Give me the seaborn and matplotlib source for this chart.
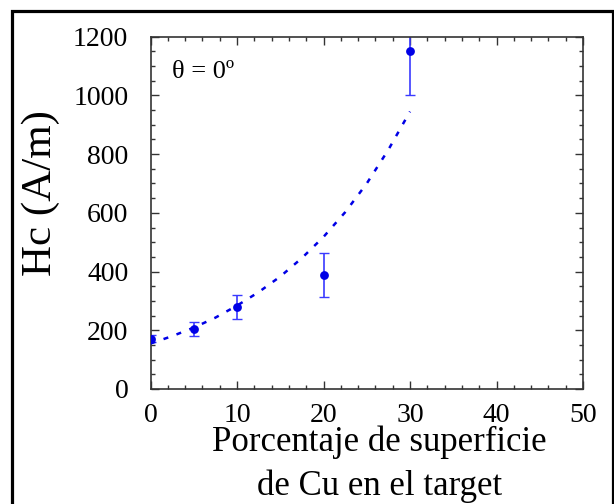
import numpy as np
import pandas as pd
import matplotlib
matplotlib.use("Agg")
import matplotlib.pyplot as plt
import seaborn as sns
from matplotlib.patches import Rectangle
from matplotlib.ticker import MultipleLocator

# measured points (x = % Cu surface, y = Hc)
cu_pct = [0, 5, 10, 20, 30]
hc = [172, 205, 280, 387, 1152]
hc_err = [12, 23, 41, 75, 150]

# dashed fit curve
fit_x = [0, 2.5, 5, 7.5, 10, 12.5, 15, 17.5, 20, 22.5, 25, 27.5, 30]
fit_y = [155, 180, 209, 243, 284, 330, 383, 446, 518, 602, 700, 815, 945]

sns.set_theme(style="ticks")
plt.rcParams["font.family"] = ["Liberation Serif", "DejaVu Serif"]
plt.rcParams["text.color"] = "black"
plt.rcParams["axes.labelcolor"] = "black"
plt.rcParams["xtick.color"] = "black"
plt.rcParams["ytick.color"] = "black"

W, H = 614, 504
fig = plt.figure(figsize=(W / 100, H / 100), dpi=100)
ax = fig.add_axes([150.5 / W, 1 - 389 / H, (583 - 150.5) / W, (389 - 36.7) / H])

df = pd.DataFrame({"x": cu_pct, "y": hc})
fit = pd.DataFrame({"x": fit_x, "y": fit_y})

blue = "#0000e6"
ax.errorbar(cu_pct, hc, yerr=hc_err, fmt="none", ecolor="#3a3aff",
            elinewidth=1.2, capsize=3.5, capthick=1.0, zorder=2)
sns.lineplot(data=fit, x="x", y="y", ax=ax, color=blue, lw=1.8,
             dashes=False, linestyle=(0, (2.0, 3.5)), zorder=3)
sns.scatterplot(data=df, x="x", y="y", ax=ax, color=blue, s=40,
                edgecolor=blue, linewidth=0, zorder=4)

ax.set_xlim(0, 50)
ax.set_ylim(0, 1200)
ax.xaxis.set_major_locator(MultipleLocator(10))
ax.xaxis.set_minor_locator(MultipleLocator(2))
ax.yaxis.set_major_locator(MultipleLocator(200))
ax.yaxis.set_minor_locator(MultipleLocator(50))
ax.tick_params(which="both", direction="in", top=True, right=True,
               color="#333333", width=1.0)
ax.tick_params(which="major", length=6, labelsize=20)
ax.tick_params(axis="y", which="major", pad=16)
ax.tick_params(axis="x", which="major", pad=10)
ax.tick_params(which="minor", length=3)
for s in ax.spines.values():
    s.set_linewidth(1.2)
    s.set_color("#333333")

ax.set_xlabel("Porcentaje de superficie\nde Cu en el target",
              fontsize=25, linespacing=1.4)
ax.xaxis.set_label_coords(0.53, -0.105)
ax.xaxis.label.set_va("top")
ax.set_ylabel("Hc (A/m)", fontsize=31)
ax.yaxis.set_label_coords(-0.254, 0.555)
ax.yaxis.label.set_va("center")

ax.text(0.05, 0.93, "θ = 0º", transform=ax.transAxes, fontsize=19,
        ha="left", va="top")

# outer frame of the figure
fig.patches.append(Rectangle((12 / W, -0.05), (612.5 - 12) / W, 1.05 - 11 / H,
                             transform=fig.transFigure, fill=False,
                             edgecolor="black", lw=2.3))

fig.savefig("out.png", dpi=100)
